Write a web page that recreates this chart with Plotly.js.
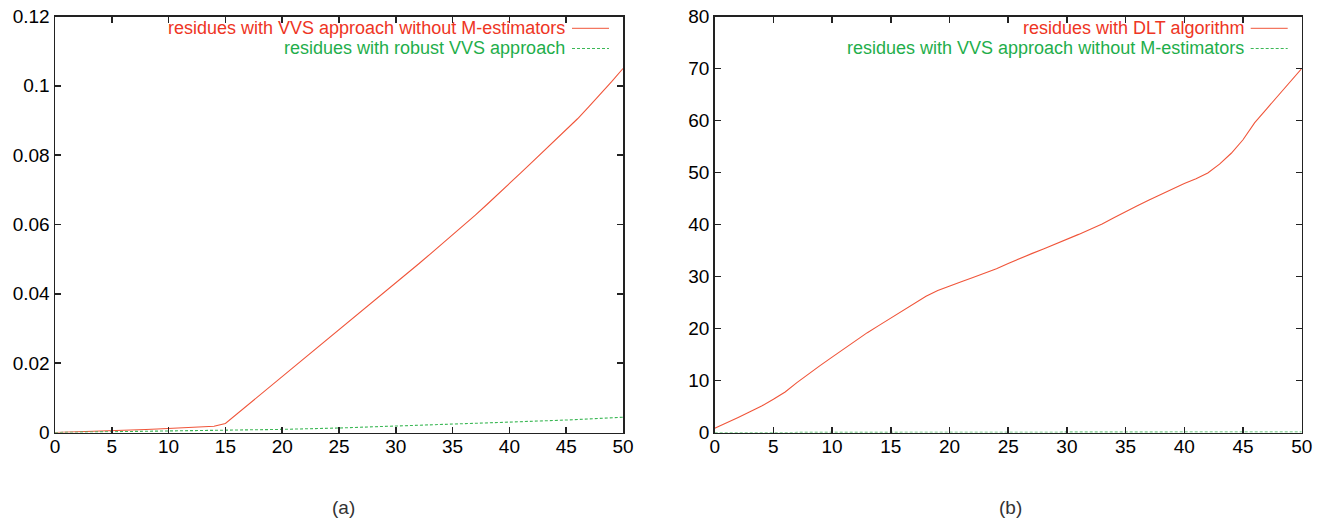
<!DOCTYPE html>
<html>
<head>
<meta charset="utf-8">
<script src="https://cdn.plot.ly/plotly-3.0.1.min.js"></script>
<style>html,body{margin:0;padding:0;background:#fff;}#chart{width:1319px;height:523px;}</style>
</head>
<body>
<div id="chart"></div>
<script>
// ---- data ----
const iterations = [0,1,2,3,4,5,6,7,8,9,10,11,12,13,14,15,16,17,18,19,20,21,22,23,24,25,26,27,28,29,30,31,32,33,34,35,36,37,38,39,40,41,42,43,44,45,46,47,48,49,50];

// (a) residues with VVS approach without M-estimators
const vvsNoMEst = [0,0.00008,0.00016,0.00024,0.00032,0.0004,0.00055,0.0007,0.00085,0.001,0.00115,0.0013,0.0015,0.0016,0.0018,0.0026,0.0053,0.008,0.0107,0.0134,0.016,0.0187,0.0214,0.0241,0.0268,0.0295,0.0322,0.0349,0.0376,0.0403,0.043,0.0458,0.0486,0.0514,0.0542,0.057,0.0598,0.0627,0.0657,0.0687,0.0718,0.0749,0.078,0.0811,0.0842,0.0873,0.0905,0.094,0.0975,0.1012,0.105];

// (a) residues with robust VVS approach
const robustX = [0,5,10,15,20,25,30,35,40,45,50];
const robustVvs = [0,0.0002,0.0004,0.0006,0.0009,0.0013,0.0018,0.0024,0.003,0.0036,0.0044];

// (b) residues with DLT algorithm
const dlt = [0.8,1.8,2.9,4.0,5.1,6.4,7.8,9.6,11.3,12.9,14.5,16.1,17.7,19.2,20.6,22.0,23.5,24.9,26.2,27.3,28.2,29.0,29.8,30.6,31.5,32.5,33.5,34.4,35.3,36.2,37.1,38.1,39.1,40.1,41.3,42.5,43.6,44.7,45.8,46.9,47.9,48.8,49.9,51.6,53.7,56.3,59.6,62.2,64.8,67.5,70.0];

const legendA = ["residues with VVS approach without M-estimators", "residues with robust VVS approach"];
const legendB = ["residues with DLT algorithm", "residues with VVS approach without M-estimators"];
const captions = ["(a)", "(b)"];

// ---- styles ----
const RED_LINE = "#f0553a", GREEN_LINE = "#3cb856";
const RED_TEXT = "#ee3524", GREEN_TEXT = "#1fae4b";
const FONT = "Liberation Sans, Arial, sans-serif";

const W = 1319, H = 523;
const px = v => v / W, py = v => 1 - v / H;

const traces = [
  {x: iterations, y: vvsNoMEst, xaxis: "x", yaxis: "y", mode: "lines", line: {color: RED_LINE, width: 1.1}, name: legendA[0]},
  {x: robustX, y: robustVvs, xaxis: "x", yaxis: "y", mode: "lines", line: {color: GREEN_LINE, width: 1.1, dash: "3px,2px"}, name: legendA[1]},
  {x: iterations, y: dlt, xaxis: "x2", yaxis: "y2", mode: "lines", line: {color: RED_LINE, width: 1.1}, name: legendB[0]},
  {x: iterations, y: vvsNoMEst, xaxis: "x2", yaxis: "y2", mode: "lines", line: {color: GREEN_LINE, width: 1.1, dash: "3px,2px"}, name: legendB[1]}
];

function axis(extra) {
  return Object.assign({
    showgrid: false, zeroline: false, showline: true, mirror: "ticks",
    linecolor: "#222", linewidth: 1.5,
    ticks: "inside", ticklen: 6, tickwidth: 1.5, tickcolor: "#222",
    tickfont: {family: FONT, size: 19, color: "#000"},
    fixedrange: true
  }, extra);
}

const yDom = [1 - 432.5 / H, 1 - 16.5 / H];

const annotations = [];
const shapes = [];
function legend(texts, rightEdge) {
  const ys = [28.3, 48.5];
  const cols = [RED_TEXT, GREEN_TEXT];
  const lcols = [RED_LINE, GREEN_LINE];
  texts.forEach((t, i) => {
    annotations.push({xref: "paper", yref: "paper", x: px(rightEdge - 56), y: py(ys[i]), xanchor: "right", yanchor: "middle",
      text: t, showarrow: false, font: {family: FONT, size: 18, color: cols[i]}});
    shapes.push({type: "line", xref: "paper", yref: "paper", x0: px(rightEdge - 51), x1: px(rightEdge - 14), y0: py(ys[i]), y1: py(ys[i]),
      line: {color: lcols[i], width: 1, dash: i ? "3px,2px" : "solid"}});
  });
}
legend(legendA, 623);
legend(legendB, 1301.7);

annotations.push({xref: "paper", yref: "paper", x: px(343), y: py(507), xanchor: "center", yanchor: "middle", text: captions[0], showarrow: false,
  font: {family: FONT, size: 19, color: "#333"}});
annotations.push({xref: "paper", yref: "paper", x: px(1010), y: py(507), xanchor: "center", yanchor: "middle", text: captions[1], showarrow: false,
  font: {family: FONT, size: 19, color: "#333"}});

const layout = {
  width: W, height: H,
  margin: {l: 0, r: 0, t: 0, b: 0},
  paper_bgcolor: "#fff", plot_bgcolor: "#fff",
  showlegend: false,
  xaxis: axis({domain: [px(55), px(623)], range: [0, 50], dtick: 5, tick0: 0, anchor: "y", ticklabelstandoff: -4}),
  yaxis: axis({domain: yDom, range: [0, 0.12], dtick: 0.02, tick0: 0, anchor: "x"}),
  xaxis2: axis({domain: [px(714.7), px(1301.7)], range: [0, 50], dtick: 5, tick0: 0, anchor: "y2", ticklabelstandoff: -4}),
  yaxis2: axis({domain: yDom, range: [0, 80], dtick: 10, tick0: 0, anchor: "x2"}),
  annotations: annotations,
  shapes: shapes
};

Plotly.newPlot("chart", traces, layout, {displayModeBar: false, staticPlot: true});
</script>
</body>
</html>
